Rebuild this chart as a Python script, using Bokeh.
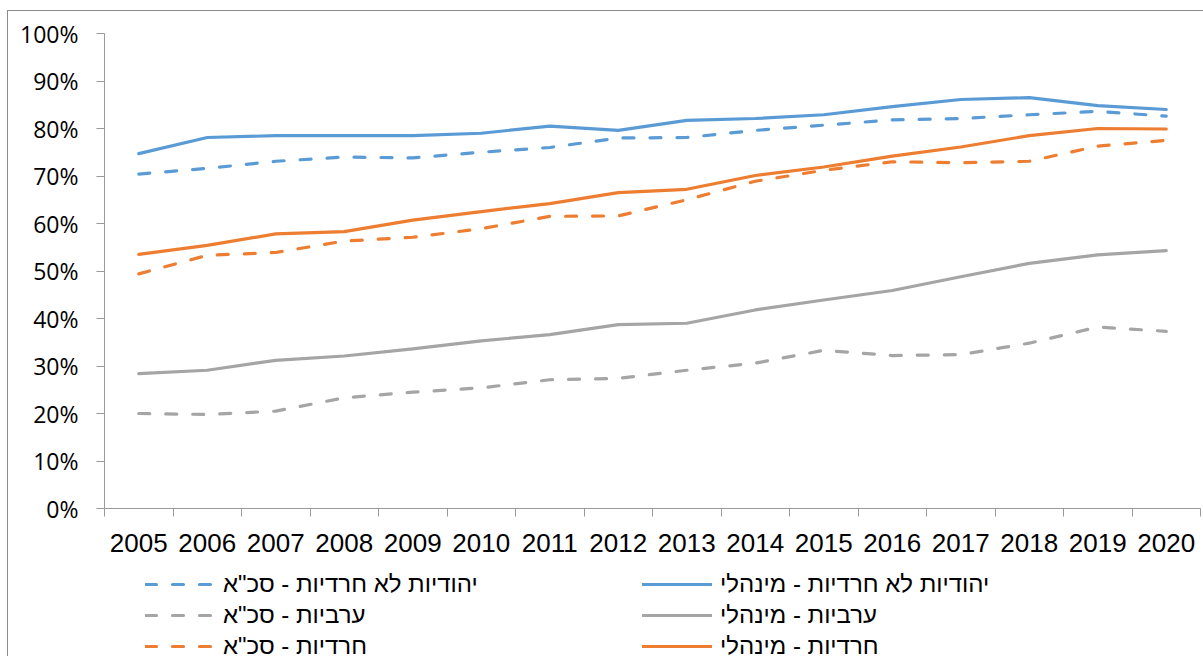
from bokeh.plotting import figure
from bokeh.models import Range1d, FixedTicker, PrintfTickFormatter, Legend, LegendItem
from bokeh.layouts import column
from bokeh.embed import file_html
from bokeh.resources import INLINE

years = list(range(2005, 2021))
jew_mgr = [74.7, 78.1, 78.5, 78.5, 78.5, 79.0, 80.5, 79.6, 81.7, 82.1, 82.9, 84.6, 86.1, 86.5, 84.8, 84.0]
jew_cbs = [70.4, 71.6, 73.1, 74.0, 73.8, 75.0, 76.0, 78.0, 78.1, 79.6, 80.7, 81.8, 82.1, 82.9, 83.6, 82.6]
arab_mgr = [28.4, 29.1, 31.2, 32.1, 33.6, 35.3, 36.6, 38.7, 39.0, 41.8, 43.9, 45.9, 48.8, 51.6, 53.4, 54.3]
arab_cbs = [20.0, 19.8, 20.5, 23.3, 24.5, 25.4, 27.1, 27.4, 29.1, 30.6, 33.3, 32.2, 32.4, 34.8, 38.2, 37.3]
har_mgr = [53.5, 55.4, 57.8, 58.3, 60.7, 62.5, 64.2, 66.5, 67.2, 70.1, 71.9, 74.2, 76.1, 78.5, 80.0, 79.9]
har_cbs = [49.4, 53.3, 53.9, 56.3, 57.1, 58.9, 61.5, 61.6, 65.0, 68.9, 71.2, 73.0, 72.8, 73.1, 76.3, 77.5]

labels_cbs = ['יהודיות לא חרדיות - סכ"א', 'ערביות - סכ"א', 'חרדיות - סכ"א']
labels_mgr = ['יהודיות לא חרדיות - מינהלי', 'ערביות - מינהלי', 'חרדיות - מינהלי']
y_ticks = list(range(0, 101, 10))

BLUE, GRAY, ORANGE = "#5B9BD5", "#A5A5A5", "#ED7D31"
AXIS = "#9a9a9a"
DASH = "11 16"
LW = 3.2

series = [(jew_cbs, BLUE, DASH), (arab_cbs, GRAY, DASH), (har_cbs, ORANGE, DASH),
          (jew_mgr, BLUE, "solid"), (arab_mgr, GRAY, "solid"), (har_mgr, ORANGE, "solid")]
labels = labels_cbs + labels_mgr

# main chart
p = figure(frame_width=1096, frame_height=475, output_backend="svg", toolbar_location=None,
           x_range=Range1d(2004.5, 2020.5), y_range=Range1d(0, 100),
           min_border_left=96, min_border_top=22, min_border_right=3, min_border_bottom=57)
p.outline_line_color = None
p.xgrid.grid_line_color = None
p.ygrid.grid_line_color = None

p.xaxis.ticker = FixedTicker(ticks=years, minor_ticks=[y - 0.5 for y in years] + [2020.5])
p.xaxis.major_tick_line_color = None
p.xaxis.major_tick_out = 8
p.xaxis.major_tick_in = 0
p.xaxis.minor_tick_out = 8
p.xaxis.minor_tick_in = 0
p.xaxis.minor_tick_line_color = AXIS
p.xaxis.axis_line_color = AXIS
p.xaxis.major_label_text_font = "Liberation Sans"
p.xaxis.major_label_text_font_size = "26px"
p.xaxis.major_label_text_color = "#000000"
p.xaxis.major_label_standoff = 17

p.yaxis.ticker = FixedTicker(ticks=y_ticks, minor_ticks=[])
p.yaxis.formatter = PrintfTickFormatter(format="%d%%")
p.yaxis.major_tick_out = 8
p.yaxis.major_tick_in = 0
p.yaxis.major_tick_line_color = AXIS
p.yaxis.axis_line_color = AXIS
p.yaxis.major_label_text_font = "Open Sans"
p.yaxis.major_label_text_font_size = "23px"
p.yaxis.major_label_text_color = "#000000"
p.yaxis.major_label_standoff = 18

for vals, col, dash in series:
    p.line(years, vals, line_color=col, line_width=LW, line_dash=dash, line_cap="round")

# legend strip (same series, drawn outside its visible range so only the legend shows)
q = figure(frame_width=1096, frame_height=91, output_backend="svg", toolbar_location=None,
           x_range=Range1d(0, 1), y_range=Range1d(0, 1),
           min_border_left=96, min_border_top=0, min_border_right=3, min_border_bottom=0)
q.axis.visible = False
q.grid.visible = False
q.outline_line_color = None
rs = []
for vals, col, dash in series:
    rs.append(q.line(years, vals, line_color=col, line_width=LW, line_dash=dash, line_cap="round"))

items = [LegendItem(label=lab, renderers=[r]) for lab, r in zip(labels, rs)]
legend = Legend(items=items, orientation="vertical", ncols=2, location=(41, -4),
                glyph_width=70, glyph_height=20, label_height=20, label_width=416,
                label_standoff=8, spacing=3, padding=0, margin=0,
                label_text_font="Liberation Sans", label_text_font_size="24px",
                label_text_color="#000000", border_line_color=None,
                background_fill_alpha=0)
q.add_layout(legend, "center")

layout = column(p, q, spacing=0,
                styles={"border-top": "1px solid #8c8c8c", "border-left": "1px solid #8c8c8c",
                        "margin-left": "7px", "margin-top": "10px"})

open("out.html", "w").write(file_html(layout, INLINE))
